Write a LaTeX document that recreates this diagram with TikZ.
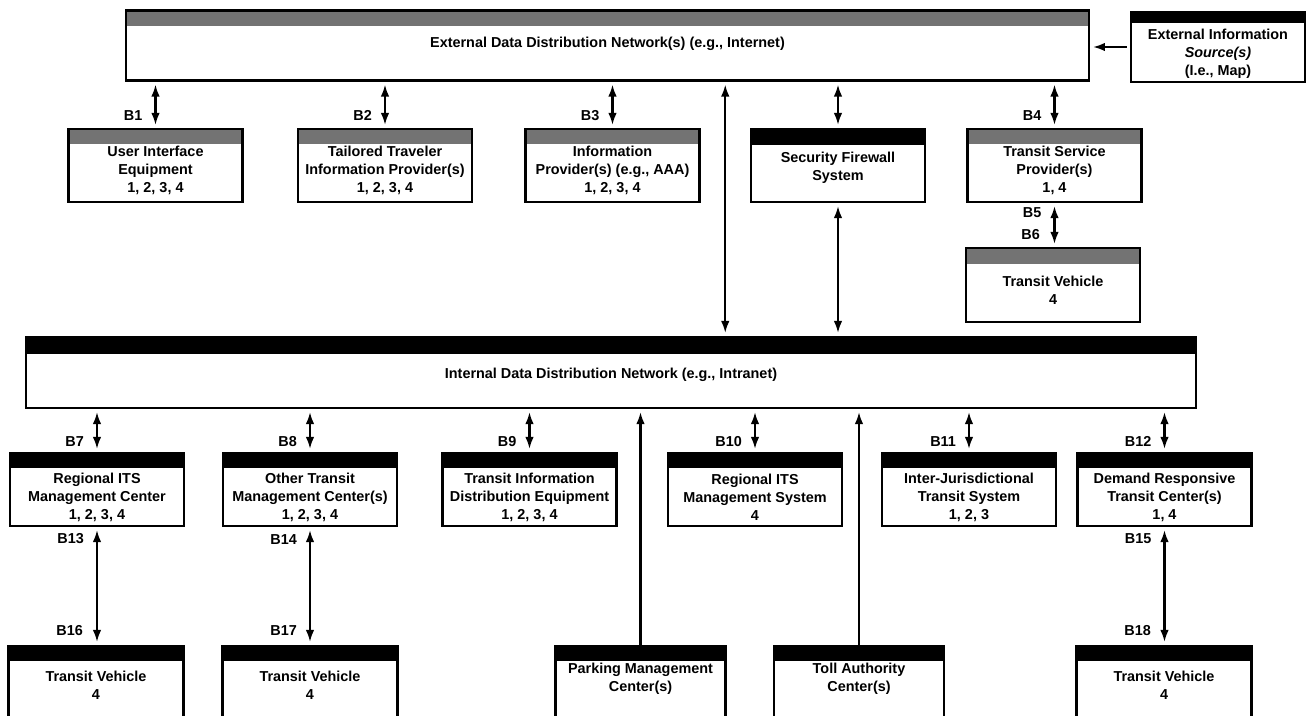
\documentclass[tikz,border=0pt]{standalone}
\usepackage{fontspec}
\setmainfont{Liberation Sans}
\usetikzlibrary{arrows.meta,calc}

\tikzset{
    unit/.style={draw, very thick, minimum width=3.48cm, minimum height=1.46cm,
        align=center, inner sep=1pt, font=\fontsize{8.2}{10.2}\selectfont\bfseries},
    bar/.style args={#1/#2}{path picture={
        \fill[#1] (path picture bounding box.north west)
            rectangle ([yshift=-#2]path picture bounding box.north east);}},
    link/.style={very thick, shorten <=0.06cm, shorten >=0.06cm},
    lab/.style={inner sep=1pt, font=\fontsize{8.2}{10.2}\selectfont\bfseries},
}

\begin{document}
\begin{tikzpicture}[x=0.02cm, y=-0.02cm, >={Latex[length=0.24cm,width=0.17cm]}]
    \useasboundingbox (0,0) rectangle (1306,716);

    % external side
    \node[unit, bar=black!55/0.3cm, minimum width=19.26cm, minimum height=1.4cm, text depth=4pt]
        (ext) at (607.5,45.5) {External Data Distribution Network(s) (e.g., Internet)};
    \node[unit, bar=black/0.22cm, minimum height=1.4cm, text height=34.4pt]
        (src) at (1218,47) {External Information\\\textit{Source(s)}\\(I.e., Map)};

    \node[unit, bar=black!55/0.3cm, text height=32pt] (uie) at (155.5,165.5) {User Interface\\Equipment\\1, 2, 3, 4};
    \node[unit, bar=black!55/0.3cm, text height=32pt] (ttip) at (385,165.5) {Tailored Traveler\\Information Provider(s)\\1, 2, 3, 4};
    \node[unit, bar=black!55/0.3cm, text height=32pt] (info) at (612.5,165.5) {Information\\Provider(s) (e.g., AAA)\\1, 2, 3, 4};
    \node[unit, bar=black/0.32cm, text height=18.5pt] (fw) at (838,165.5) {Security Firewall\\System};
    \node[unit, bar=black!55/0.3cm, text height=32pt] (tsp) at (1054.5,165.5) {Transit Service\\Provider(s)\\1, 4};
    \node[unit, bar=black!55/0.32cm, minimum height=1.48cm, text height=22pt] (tv0) at (1053,285) {Transit Vehicle\\4};

    % internal side
    \node[unit, bar=black/0.34cm, minimum width=23.4cm, minimum height=1.42cm, text height=8.4pt]
        (int) at (611,372.5) {Internal Data Distribution Network (e.g., Intranet)};

    \node[unit, bar=black/0.3cm, text height=35.5pt] (rits) at (97,489.5) {Regional ITS\\Management Center\\1, 2, 3, 4};
    \node[unit, bar=black/0.3cm, text height=35.5pt] (otmc) at (310,489.5) {Other Transit\\Management Center(s)\\1, 2, 3, 4};
    \node[unit, bar=black/0.3cm, text height=35.5pt] (tide) at (529.5,489.5) {Transit Information\\Distribution Equipment\\1, 2, 3, 4};
    \node[unit, bar=black/0.3cm, text height=35.5pt] (ritsys) at (755,489.5) {Regional ITS\\Management System\\4};
    \node[unit, bar=black/0.3cm, text height=35.5pt] (ijts) at (969,489.5) {Inter-Jurisdictional\\Transit System\\1, 2, 3};
    \node[unit, bar=black/0.3cm, text height=35.5pt] (drtc) at (1164.5,489.5) {Demand Responsive\\Transit Center(s)\\1, 4};

    \node[unit, bar=black/0.3cm, minimum width=3.5cm, minimum height=1.48cm, text height=18.5pt] (tv1) at (96,683) {Transit Vehicle\\4};
    \node[unit, bar=black/0.3cm, minimum width=3.5cm, minimum height=1.48cm, text height=18.5pt] (tv2) at (310,683) {Transit Vehicle\\4};
    \node[unit, bar=black/0.3cm, minimum width=3.4cm, minimum height=1.48cm, text depth=6.5pt] (park) at (640.5,683) {Parking Management\\Center(s)};
    \node[unit, bar=black/0.3cm, minimum width=3.4cm, minimum height=1.48cm, text depth=6.5pt] (toll) at (859,683) {Toll Authority\\Center(s)};
    \node[unit, bar=black/0.3cm, minimum width=3.5cm, minimum height=1.48cm, text height=18.5pt] (tv3) at (1164,683) {Transit Vehicle\\4};

    % connectors
    \draw[->, link] (src.west) -- (src.west -| ext.east);
    \foreach \nm in {uie,ttip,info,fw,tsp}
        \draw[<->, link] (\nm.north |- ext.south) -- (\nm.north);
    \coordinate (mid) at ($(info.east)!.5!(fw.west)$);
    \draw[<->, link] (mid |- ext.south) -- (mid |- int.north);
    \draw[<->, link] (fw.south) -- (fw.south |- int.north);
    \draw[<->, link] (tsp.south) -- (tsp.south |- tv0.north);
    \foreach \nm in {rits,otmc,tide,ritsys,ijts,drtc}
        \draw[<->, link] (\nm.north |- int.south) -- (\nm.north);
    \draw[<->, link] (rits.south) -- (rits.south |- tv1.north);
    \draw[<->, link] (otmc.south) -- (otmc.south |- tv2.north);
    \draw[<->, link] (drtc.south) -- (drtc.south |- tv3.north);
    \draw[->, link, shorten <=0pt] (park.north) -- (park.north |- int.south);
    \draw[->, link, shorten <=0pt] (toll.north) -- (toll.north |- int.south);

    % labels
    \foreach \nm/\lb in {uie/B1, ttip/B2, info/B3, tsp/B4}
        \node[lab, anchor=east] (l\lb) at ([xshift=-0.22cm, yshift=0.24cm]\nm.north) {\lb};
    \node[lab, anchor=east] (lB5) at ([xshift=-0.22cm, yshift=-0.2cm]tsp.south) {B5};
    \node[lab, anchor=east] (lB6) at ([xshift=-0.22cm, yshift=0.24cm]tv0.north) {B6};
    \foreach \nm/\lb in {rits/B7, otmc/B8, tide/B9, ritsys/B10, ijts/B11, drtc/B12}
        \node[lab, anchor=east] (l\lb) at ([xshift=-0.22cm, yshift=0.2cm]\nm.north) {\lb};
    \foreach \nm/\lb in {rits/B13, otmc/B14, drtc/B15}
        \node[lab, anchor=east] (l\lb) at ([xshift=-0.22cm, yshift=-0.24cm]\nm.south) {\lb};
    \foreach \nm/\lb in {tv1/B16, tv2/B17, tv3/B18}
        \node[lab, anchor=east] (l\lb) at ([xshift=-0.22cm, yshift=0.28cm]\nm.north) {\lb};
\end{tikzpicture}
\end{document}
